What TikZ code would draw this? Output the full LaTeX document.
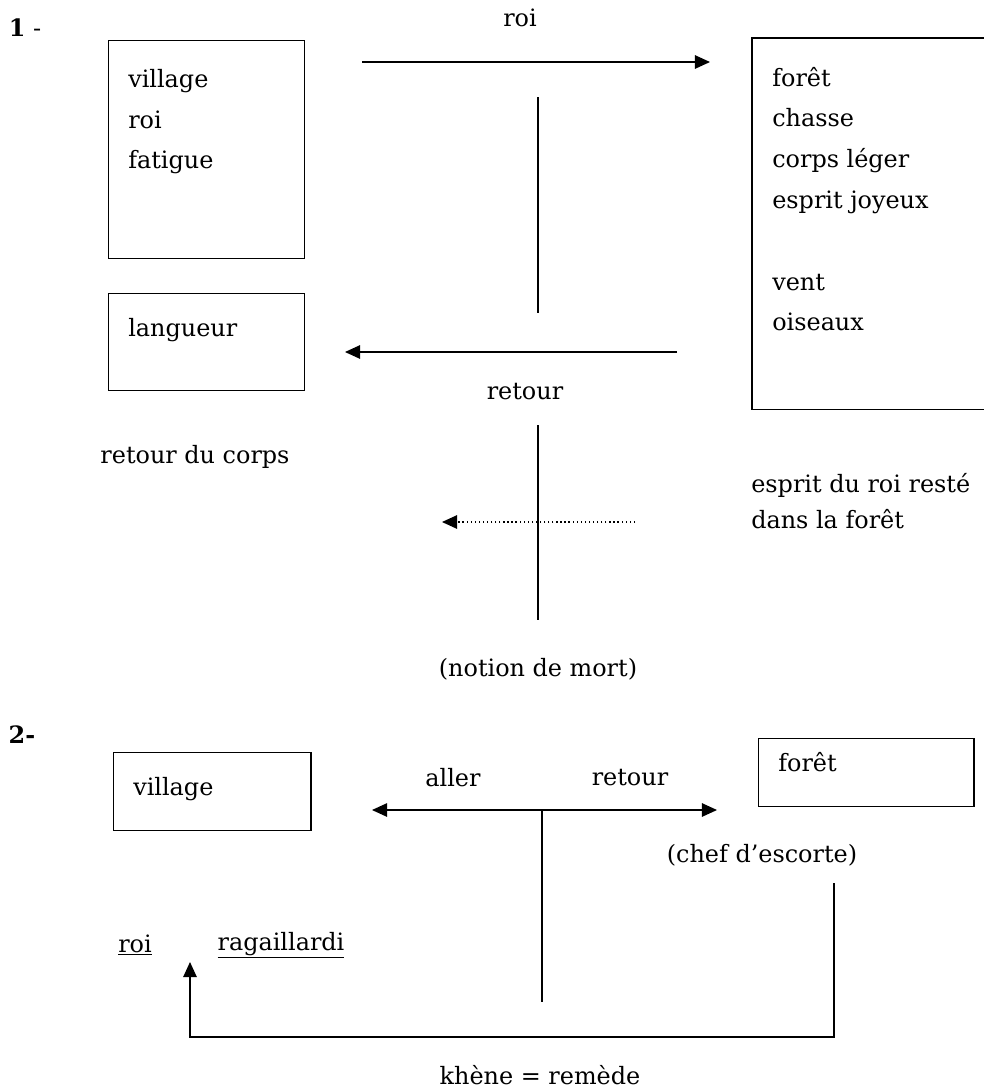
\documentclass[tikz,border=0pt]{standalone}
\usepackage{fontspec}
\setmainfont{DejaVu Serif}
\usetikzlibrary{arrows.meta,positioning}
\tikzset{
  framebox/.style={
    rectangle, draw, line width=0.9pt, anchor=north west, inner sep=0pt
  },
  itemlist/.style={
    anchor=north west, inner sep=0pt, align=left,
    font=\fontsize{17}{29}\selectfont
  },
  lbl/.style={inner sep=0pt, align=left, font=\fontsize{17}{26}\selectfont},
  flowarrow/.style={->, line width=0.9pt},
  plainline/.style={line width=0.9pt},
}

\begin{document}
\begin{tikzpicture}[x=0.025cm, y=-0.025cm, >={Triangle[length=3.8mm,width=3.4mm]}]
  \useasboundingbox (0,0) rectangle (984,1092);

  % part 1
  \node[lbl] (num1) at (25,28) {\textbf{1} -};
  \node[framebox, minimum width=4.9cm, minimum height=5.45cm] (vil) at (108,40) {};
  \node[itemlist] (vilitems) at ([xshift=0.5cm,yshift=-0.72cm]vil.north west) {village\\roi\\fatigue};
  \node[framebox, minimum width=4.9cm, minimum height=2.43cm] (lang) at (108,293) {};
  \node[itemlist] (langitems) at ([xshift=0.5cm,yshift=-0.62cm]lang.north west) {langueur};
  \node[framebox, draw=none, minimum width=5.8cm, minimum height=9.25cm] (frt) at (752,38) {};
  \draw[plainline] (frt.north east) -- (frt.north west) -- (frt.south west) -- (frt.south east);
  \node[itemlist] (frtitems) at ([xshift=0.5cm,yshift=-0.72cm]frt.north west)
    {forêt\\chasse\\corps léger\\esprit joyeux\\[29pt]vent\\oiseaux};

  \coordinate (allerA) at (362,62);
  \coordinate (allerB) at (710,62);
  \draw[flowarrow] (allerA) -- (allerB);
  \node[lbl] (roitop) at (520,18) {roi};
  \coordinate (cutA) at (538,97);
  \coordinate (cutB) at (538,313);
  \draw[plainline] (cutA) -- (cutB);

  \coordinate (backA) at (677,352);
  \coordinate (backB) at (345,352);
  \draw[flowarrow] (backA) -- (backB);
  \node[lbl] (retour) at (525,392) {retour};
  \coordinate (cutC) at (538,425);
  \coordinate (cutD) at (538,620);
  \draw[plainline] (cutC) -- (cutD);
  \coordinate (dotA) at (635,522);
  \coordinate (dotB) at (442,522);
  \draw[flowarrow, dotted] (dotA) -- (dotB);

  \node[lbl] (corps) at (195,457) {retour du corps};
  \node[lbl] (esprit) at (751,501) [anchor=west] {esprit du roi resté\\dans la forêt};
  \node[lbl, below=0.95cm of cutD] (mort) {(notion de mort)};

  % part 2
  \node[lbl] (num2) at (22,735) {\textbf{2-}};
  \node[framebox, minimum width=4.93cm, minimum height=1.95cm] (vil2) at (113,752) {};
  \node[itemlist] (vil2items) at ([xshift=0.5cm,yshift=-0.62cm]vil2.north west) {village};
  \node[framebox, minimum width=5.38cm, minimum height=1.7cm] (frt2) at (758,738) {};
  \node[itemlist] (frt2items) at ([xshift=0.5cm,yshift=-0.35cm]frt2.north west) {forêt};

  \coordinate (tripA) at (372,810);
  \coordinate (tripB) at (717,810);
  \draw[<->, line width=0.9pt] (tripA) -- (tripB);
  \node[lbl] (aller) at (453,778) {aller};
  \node[lbl] (retour2) at (630,778) {retour};
  \coordinate (stemA) at (542,810);
  \coordinate (stemB) at (542,1002);
  \draw[plainline] (stemA) -- (stemB);

  \node[lbl] (chef) at (762,855) {(chef d'escorte)};
  \node[lbl] (roi2) at (135,945) {\underline{roi}};
  \node[lbl] (ragail) at (281,945) {\underline{ragaillardi}};
  \coordinate (khA) at (834,883);
  \coordinate (khB) at (190,962);
  \draw[flowarrow] (khA) |- (190,1037) -- (khB);
  \node[lbl] (khene) at (540,1075) {khène = remède};
\end{tikzpicture}
\end{document}
